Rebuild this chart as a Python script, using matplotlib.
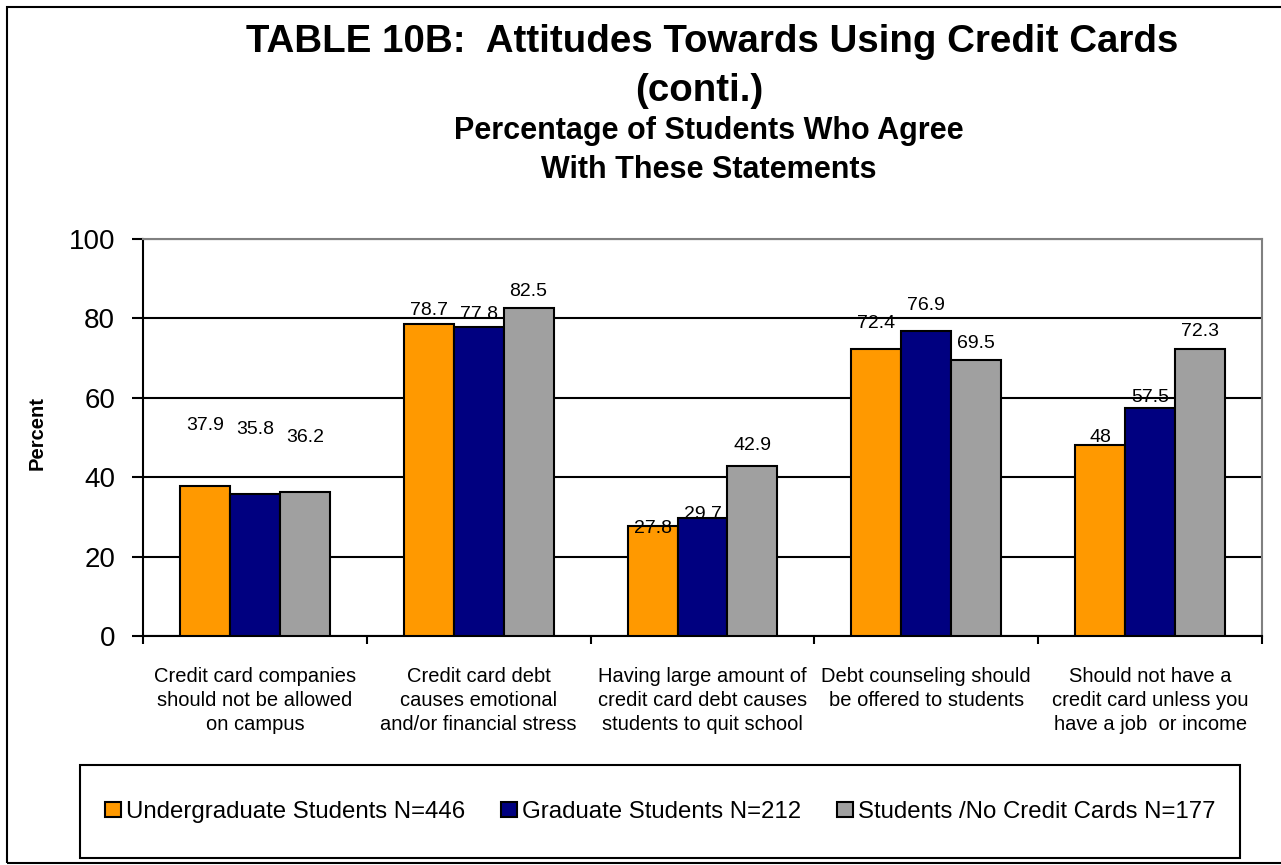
import matplotlib
matplotlib.use("Agg")
import numpy as np
import matplotlib.pyplot as plt
from matplotlib.patches import Rectangle

plt.rcParams['font.family'] = ['Liberation Sans', 'DejaVu Sans']

# ---- data ----
statements = [
    "Credit card companies\nshould not be allowed\non campus",
    "Credit card debt\ncauses emotional\nand/or financial stress",
    "Having large amount of\ncredit card debt causes\nstudents to quit school",
    "Debt counseling should\nbe offered to students",
    "Should not have a\ncredit card unless you\nhave a job  or income",
]
series_names = [
    "Undergraduate Students N=446",
    "Graduate Students N=212",
    "Students /No Credit Cards N=177",
]
undergrad = [37.9, 78.7, 27.8, 72.4, 48]
graduate = [35.8, 77.8, 29.7, 76.9, 57.5]
no_card = [36.2, 82.5, 42.9, 69.5, 72.3]

# where the value labels sit relative to the bar top (data units)
undergrad_dy = [15.2, 3.4, -0.8, 6.2, 1.9]
graduate_dy = [16.2, 3.3, 0.9, 6.3, 2.6]
no_card_dy = [13.7, 4.3, 5.0, 4.1, 4.4]

colors = ['#ff9900', '#000080', '#a0a0a0']

W, H = 1281, 865
fig = plt.figure(figsize=(W / 100, H / 100), dpi=100)

def fx(px):
    return px / W

def fy(py):
    return 1 - py / H

ax = fig.add_axes([fx(143), fy(636), fx(1262 - 143), (636 - 239) / H])

x = np.arange(len(statements))
bw = 0.223
series = [(undergrad, undergrad_dy), (graduate, graduate_dy), (no_card, no_card_dy)]
for i, ((vals, dys), name, c) in enumerate(zip(series, series_names, colors)):
    pos = x + (i - 1) * bw
    ax.bar(pos, vals, bw, color=c, edgecolor='black', linewidth=1.5,
           label=name, zorder=3)
    for p, v, d in zip(pos, vals, dys):
        ax.text(p, v + d, f"{v:g}", ha='center', va='center', fontsize=14,
                zorder=4)

ax.set_xlim(-0.5, len(statements) - 0.5)
ax.set_ylim(0, 100)
ax.set_yticks(range(0, 101, 20))
ax.yaxis.grid(True, color='black', linewidth=1.5)
ax.set_axisbelow(True)

for side in ['left', 'bottom']:
    ax.spines[side].set_color('black')
    ax.spines[side].set_linewidth(1.5)
for side in ['top', 'right']:
    ax.spines[side].set_color('#808080')
    ax.spines[side].set_linewidth(1.5)

ax.tick_params(axis='y', direction='out', length=8, width=1.5, pad=12,
               labelsize=20)
ax.set_xticks(x)
ax.set_xticklabels(statements, fontsize=14.5, linespacing=1.35)
ax.set_xticks(np.arange(-0.5, len(statements)), minor=True)
ax.tick_params(axis='x', which='major', length=0, pad=22)
ax.tick_params(axis='x', which='minor', direction='out', length=6, width=1.5)

fig.text(fx(37), fy(433), "Percent", rotation=90, fontsize=14.5,
         fontweight='bold', ha='center', va='center')

# titles
fig.text(fx(712), fy(52), "TABLE 10B:  Attitudes Towards Using Credit Cards",
         fontsize=27.7, fontweight='bold', ha='center', va='baseline')
fig.text(fx(699), fy(101), "(conti.)", fontsize=27.7, fontweight='bold',
         ha='center', va='baseline')
fig.text(fx(709), fy(139), "Percentage of Students Who Agree", fontsize=22,
         fontweight='bold', ha='center', va='baseline')
fig.text(fx(709), fy(178), "With These Statements", fontsize=22,
         fontweight='bold', ha='center', va='baseline')

# legend with its own box
fig.add_artist(Rectangle((fx(80), fy(858)), fx(1240 - 80), (858 - 765) / H,
                         transform=fig.transFigure, fill=False,
                         edgecolor='black', linewidth=1.5))
handles, labels = ax.get_legend_handles_labels()
fig.legend(handles, labels, loc='center', bbox_to_anchor=(fx(660), fy(812)),
           ncol=3, frameon=False, fontsize=17.3, handlelength=0.67,
           handleheight=0.6, handletextpad=0.2, columnspacing=1.5,
           borderpad=0, borderaxespad=0)

# outer border (right side runs past the edge)
fig.add_artist(Rectangle((fx(7), fy(863)), 1.2, (863 - 7) / H,
                         transform=fig.transFigure, fill=False,
                         edgecolor='black', linewidth=1.5))

fig.savefig("out.png", dpi=100)
